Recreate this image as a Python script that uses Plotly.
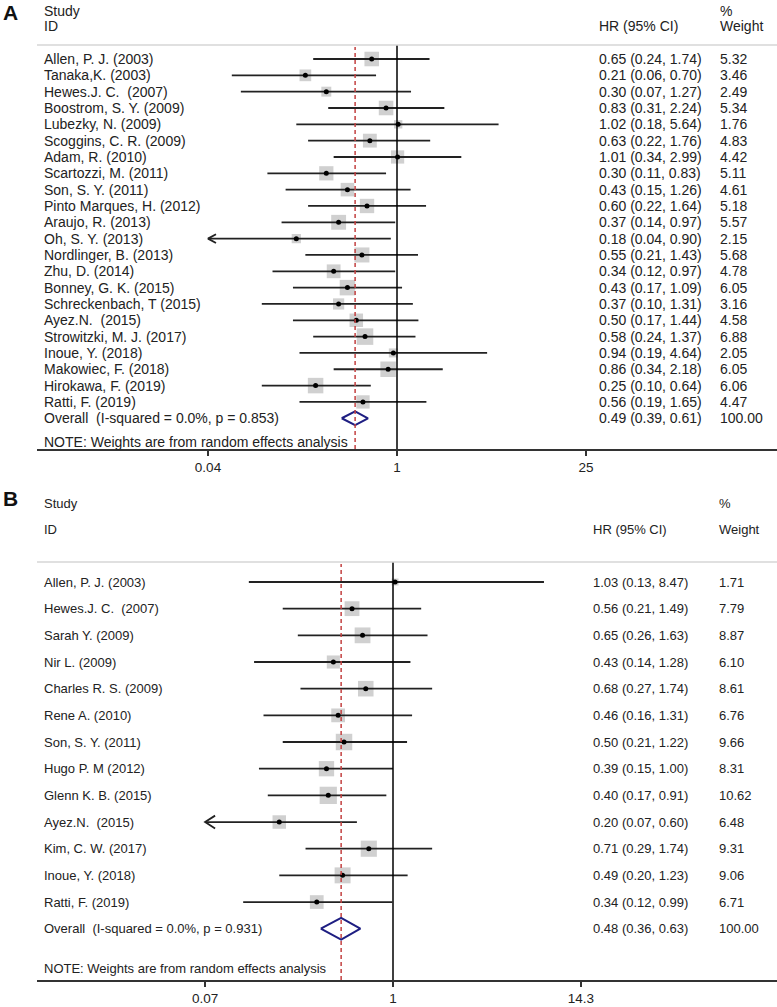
import math
import plotly.graph_objects as go

W, H = 777, 1007
FONT = "Liberation Sans, Arial, sans-serif"

# ---------------- Panel A data ----------------
studies_a = ["Allen, P. J. (2003)", "Tanaka,K. (2003)", "Hewes.J. C.  (2007)", "Boostrom, S. Y. (2009)",
             "Lubezky, N. (2009)", "Scoggins, C. R. (2009)", "Adam, R. (2010)", "Scartozzi, M. (2011)",
             "Son, S. Y. (2011)", "Pinto Marques, H. (2012)", "Araujo, R. (2013)", "Oh, S. Y. (2013)",
             "Nordlinger, B. (2013)", "Zhu, D. (2014)", "Bonney, G. K. (2015)", "Schreckenbach, T (2015)",
             "Ayez.N.  (2015)", "Strowitzki, M. J. (2017)", "Inoue, Y. (2018)", "Makowiec, F. (2018)",
             "Hirokawa, F. (2019)", "Ratti, F. (2019)"]
hr_a = [0.65, 0.21, 0.30, 0.83, 1.02, 0.63, 1.01, 0.30, 0.43, 0.60, 0.37, 0.18, 0.55, 0.34, 0.43, 0.37,
        0.50, 0.58, 0.94, 0.86, 0.25, 0.56]
lo_a = [0.24, 0.06, 0.07, 0.31, 0.18, 0.22, 0.34, 0.11, 0.15, 0.22, 0.14, 0.04, 0.21, 0.12, 0.17, 0.10,
        0.17, 0.24, 0.19, 0.34, 0.10, 0.19]
hi_a = [1.74, 0.70, 1.27, 2.24, 5.64, 1.76, 2.99, 0.83, 1.26, 1.64, 0.97, 0.90, 1.43, 0.97, 1.09, 1.31,
        1.44, 1.37, 4.64, 2.18, 0.64, 1.65]
w_a = [5.32, 3.46, 2.49, 5.34, 1.76, 4.83, 4.42, 5.11, 4.61, 5.18, 5.57, 2.15, 5.68, 4.78, 6.05, 3.16,
       4.58, 6.88, 2.05, 6.05, 6.06, 4.47]
overall_a = (0.49, 0.39, 0.61)
overall_weight_a = "100.00"
overall_label_a = "Overall  (I-squared = 0.0%, p = 0.853)"
ticks_a = [0.04, 1, 25]
ticklabels_a = ["0.04", "1", "25"]

# ---------------- Panel B data ----------------
studies_b = ["Allen, P. J. (2003)", "Hewes.J. C.  (2007)", "Sarah Y. (2009)", "Nir L. (2009)",
             "Charles R. S. (2009)", "Rene A. (2010)", "Son, S. Y. (2011)", "Hugo P. M (2012)",
             "Glenn K. B. (2015)", "Ayez.N.  (2015)", "Kim, C. W. (2017)", "Inoue, Y. (2018)",
             "Ratti, F. (2019)"]
hr_b = [1.03, 0.56, 0.65, 0.43, 0.68, 0.46, 0.50, 0.39, 0.40, 0.20, 0.71, 0.49, 0.34]
lo_b = [0.13, 0.21, 0.26, 0.14, 0.27, 0.16, 0.21, 0.15, 0.17, 0.07, 0.29, 0.20, 0.12]
hi_b = [8.47, 1.49, 1.63, 1.28, 1.74, 1.31, 1.22, 1.00, 0.91, 0.60, 1.74, 1.23, 0.99]
w_b = [1.71, 7.79, 8.87, 6.10, 8.61, 6.76, 9.66, 8.31, 10.62, 6.48, 9.31, 9.06, 6.71]
overall_b = (0.48, 0.36, 0.63)
overall_weight_b = "100.00"
overall_label_b = "Overall  (I-squared = 0.0%, p = 0.931)"
ticks_b = [0.07, 1, 14.3]
ticklabels_b = ["0.07", "1", "14.3"]

note_text = "NOTE: Weights are from random effects analysis"

fig = go.Figure()

TEXT_C = "#222222"
LINE_C = "#222222"
BOX_C = "rgb(188,188,188)"
DIAM_C = "rgb(30,30,130)"
DASH_C = "rgb(195,65,65)"


def px2paper_x(px):
    return px / W


def px2paper_y(px):
    return 1 - px / H


def add_panel(xa, ya, studies, hr, lo, hi, w, overall, overall_weight, overall_label, ticks,
              geom):
    xref = "x" if xa == 1 else f"x{xa}"
    yref = "y" if ya == 1 else f"y{ya}"
    fs = geom["fs"]
    n = len(studies)
    xmin = min(ticks)
    # CI lines
    xs, ys = [], []
    arrows_x, arrows_y = [], []
    for i in range(n):
        left = max(lo[i], xmin)
        xs += [left, hi[i], None]
        ys += [i, i, None]
        if lo[i] <= xmin:
            f = 10 ** (geom["arrow_len"] / geom["ppd"])
            arrows_x += [left * f, left, left * f, None]
            arrows_y += [i - geom["arrow_h"], i, i + geom["arrow_h"], None]
    # boxes
    fig.add_trace(go.Scatter(x=hr, y=list(range(n)), mode="markers", xaxis=xref, yaxis=yref,
                             marker=dict(symbol="square", color=BOX_C,
                                         size=[geom["box_k"] * math.sqrt(v) for v in w],
                                         line=dict(width=0)),
                             showlegend=False, hoverinfo="skip"))
    fig.add_trace(go.Scatter(x=xs, y=ys, mode="lines", xaxis=xref, yaxis=yref,
                             line=dict(color=LINE_C, width=1.8), showlegend=False, hoverinfo="skip"))
    if arrows_x:
        fig.add_trace(go.Scatter(x=arrows_x, y=arrows_y, mode="lines", xaxis=xref, yaxis=yref,
                                 line=dict(color=LINE_C, width=1.8), showlegend=False,
                                 hoverinfo="skip"))
    fig.add_trace(go.Scatter(x=hr, y=list(range(n)), mode="markers", xaxis=xref, yaxis=yref,
                             marker=dict(symbol="circle", color="black", size=5),
                             showlegend=False, hoverinfo="skip"))
    # diamond
    est, dlo, dhi = overall
    r = n
    dh = geom["diam_h"]
    fig.add_trace(go.Scatter(x=[dlo, est, dhi, est, dlo], y=[r, r - dh, r, r + dh, r], mode="lines",
                             xaxis=xref, yaxis=yref, line=dict(color=DIAM_C, width=2),
                             showlegend=False, hoverinfo="skip"))
    # vertical line at 1 and dashed overall line
    fig.add_shape(type="line", xref=xref, yref=f"{yref} domain", x0=1, x1=1, y0=0, y1=1,
                  line=dict(color="black", width=1.5))
    fig.add_shape(type="line", xref=xref, yref=f"{yref} domain", x0=est, x1=est, y0=0, y1=0.995,
                  line=dict(color=DASH_C, width=1.5, dash="4px,3px"))
    # header line
    fig.add_shape(type="line", xref="paper", yref="paper", x0=px2paper_x(37), x1=1,
                  y0=px2paper_y(geom["head_line"]), y1=px2paper_y(geom["head_line"]),
                  line=dict(color="#d6d6d6", width=1.5))

    # row texts
    def rtext(xpx, row, txt):
        fig.add_annotation(x=px2paper_x(xpx), xref="paper", y=row, yref=yref, text=txt,
                           showarrow=False, xanchor="left", yanchor="middle",
                           font=dict(size=fs, color=TEXT_C, family=FONT))
    for i in range(n):
        rtext(42, i, studies[i])
        rtext(geom["hr_x"], i, f"{hr[i]:.2f} ({lo[i]:.2f}, {hi[i]:.2f})")
        rtext(geom["w_x"], i, f"{w[i]:.2f}")
    rtext(42, r, overall_label)
    rtext(geom["hr_x"], r, f"{est:.2f} ({dlo:.2f}, {dhi:.2f})")
    rtext(geom["w_x"], r, overall_weight)

    # header texts (paper coords)
    def ptext(xpx, ypx, txt, size=fs, bold=False):
        fig.add_annotation(x=px2paper_x(xpx), xref="paper", y=px2paper_y(ypx), yref="paper",
                           text=f"<b>{txt}</b>" if bold else txt, showarrow=False,
                           xanchor="left", yanchor="middle",
                           font=dict(size=size, color=TEXT_C if not bold else "#111", family=FONT))
    ptext(42, geom["study_y"], "Study")
    ptext(42, geom["id_y"], "ID")
    ptext(geom["hr_x"], geom["id_y"], "HR (95% CI)")
    ptext(geom["w_x"], geom["study_y"], "%")
    ptext(geom["w_x"], geom["id_y"], "Weight")
    ptext(42, geom["note_y"], note_text)
    ptext(1, geom["label_y"], geom["label"], size=21, bold=True)


geom_a = dict(fs=14, ppd=135.2, arrow_len=8, arrow_h=0.27, box_k=6.3, diam_h=0.42,
              head_line=45, hr_x=597, w_x=718, study_y=11, id_y=26, note_y=442, label_y=12,
              label="A")
geom_b = dict(fs=13, ppd=162.7, arrow_len=10, arrow_h=0.24, box_k=5.3, diam_h=0.41,
              head_line=562, hr_x=591, w_x=717, study_y=503, id_y=529, note_y=968, label_y=499,
              label="B")

add_panel(1, 1, studies_a, hr_a, lo_a, hi_a, w_a, overall_a, overall_weight_a, overall_label_a,
          ticks_a, geom_a)
add_panel(2, 2, studies_b, hr_b, lo_b, hi_b, w_b, overall_b, overall_weight_b, overall_label_b,
          ticks_b, geom_b)

axis_common = dict(type="log", showgrid=False, zeroline=False, showline=True, linecolor="#333333",
                   linewidth=2, ticks="outside", ticklen=5, tickwidth=1.5, tickcolor="#333333",
                   tickfont=dict(size=13.5, color=TEXT_C, family=FONT), fixedrange=True)

fig.update_layout(
    width=W, height=H, margin=dict(l=0, r=0, t=0, b=0),
    paper_bgcolor="white", plot_bgcolor="white", showlegend=False,
    xaxis=dict(domain=[37 / W, 1], anchor="y", range=[(37 - 397) / 135.2, (777 - 397) / 135.2],
               tickvals=ticks_a, ticktext=ticklabels_a, **axis_common),
    yaxis=dict(domain=[1 - 449 / H, 1 - 45 / H], range=[(449 - 59) / 16.33, (45 - 59) / 16.33],
               visible=False, fixedrange=True),
    xaxis2=dict(domain=[37 / W, 1], anchor="y2", range=[(37 - 393) / 162.7, (777 - 393) / 162.7],
                tickvals=ticks_b, ticktext=ticklabels_b, **axis_common),
    yaxis2=dict(domain=[1 - 980 / H, 1 - 562 / H], range=[(980 - 582) / 26.67, (562 - 582) / 26.67],
                visible=False, fixedrange=True),
)

fig.write_html("out.html", config={"displayModeBar": False},
               post_script="document.body.style.margin='0';document.body.style.overflow='hidden';")
